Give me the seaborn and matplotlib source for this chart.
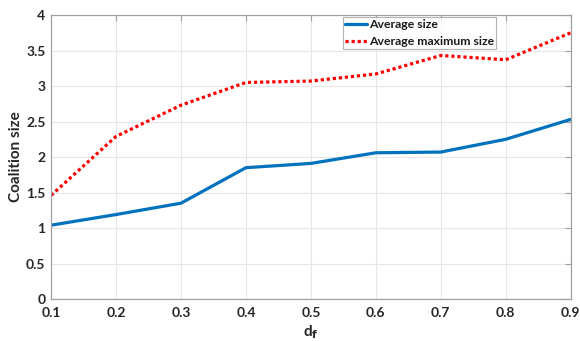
import matplotlib
matplotlib.use("Agg")
import matplotlib.pyplot as plt
import seaborn as sns
import pandas as pd

df_values = [0.1, 0.2, 0.3, 0.4, 0.5, 0.6, 0.7, 0.8, 0.9]
avg_size = [1.04, 1.19, 1.35, 1.85, 1.91, 2.06, 2.07, 2.25, 2.53]
avg_max_size = [1.46, 2.29, 2.73, 3.05, 3.07, 3.17, 3.43, 3.37, 3.75]
x_ticks = [0.1, 0.2, 0.3, 0.4, 0.5, 0.6, 0.7, 0.8, 0.9]
y_ticks = [0, 0.5, 1, 1.5, 2, 2.5, 3, 3.5, 4]

sns.set_theme(style="whitegrid")
plt.rcParams["font.family"] = ["Lato", "DejaVu Sans"]
plt.rcParams["font.weight"] = "bold"

data = pd.DataFrame({"df": df_values, "avg": avg_size, "max": avg_max_size})

fig = plt.figure(figsize=(5.8, 3.41), dpi=100)
ax = fig.add_axes([0.088, 0.123, 0.896, 0.833])

sns.lineplot(data=data, x="df", y="avg", ax=ax, color="#0072BD",
             linewidth=2.3, label="Average size")
sns.lineplot(data=data, x="df", y="max", ax=ax, color="#FF0000",
             linewidth=2.3, linestyle=(0, (1, 0.9)), label="Average maximum size")

ax.set_xlim(0.1, 0.9)
ax.set_ylim(0, 4)
ax.set_xticks(x_ticks)
ax.set_yticks(y_ticks)
ax.set_xticklabels([f"{v:g}" for v in x_ticks], fontsize=10, fontweight="bold", color="#262626")
ax.set_yticklabels([f"{v:g}" for v in y_ticks], fontsize=10, fontweight="bold", color="#262626")
ax.tick_params(axis="x", pad=6)
ax.tick_params(axis="y", pad=4)
ax.set_xlabel("d$_\\mathbf{f}$", fontsize=11, fontweight="bold", color="#262626", labelpad=3)
ax.set_ylabel("Coalition size", fontsize=11, fontweight="bold", color="#262626", labelpad=2)

ax.set_facecolor("white")
ax.grid(True, color="#e6e6e6", linewidth=0.8)
for s in ax.spines.values():
    s.set_visible(True)
    s.set_color("#a0a0a0")
    s.set_linewidth(0.9)
ax.tick_params(axis="both", direction="in", length=4, width=0.8, color="#a0a0a0",
               top=True, right=True)

leg = ax.legend(loc="upper left", bbox_to_anchor=(0.561, 0.993), fontsize=8.8,
                frameon=True, fancybox=False, borderpad=0.2, labelspacing=0.45,
                handlelength=1.8, handletextpad=0.15, borderaxespad=0)
leg.get_frame().set_edgecolor("#a0a0a0")
leg.get_frame().set_linewidth(0.8)
for t in leg.get_texts():
    t.set_fontweight("bold")
    t.set_color("#1a1a1a")

fig.savefig("out.png", dpi=100)
